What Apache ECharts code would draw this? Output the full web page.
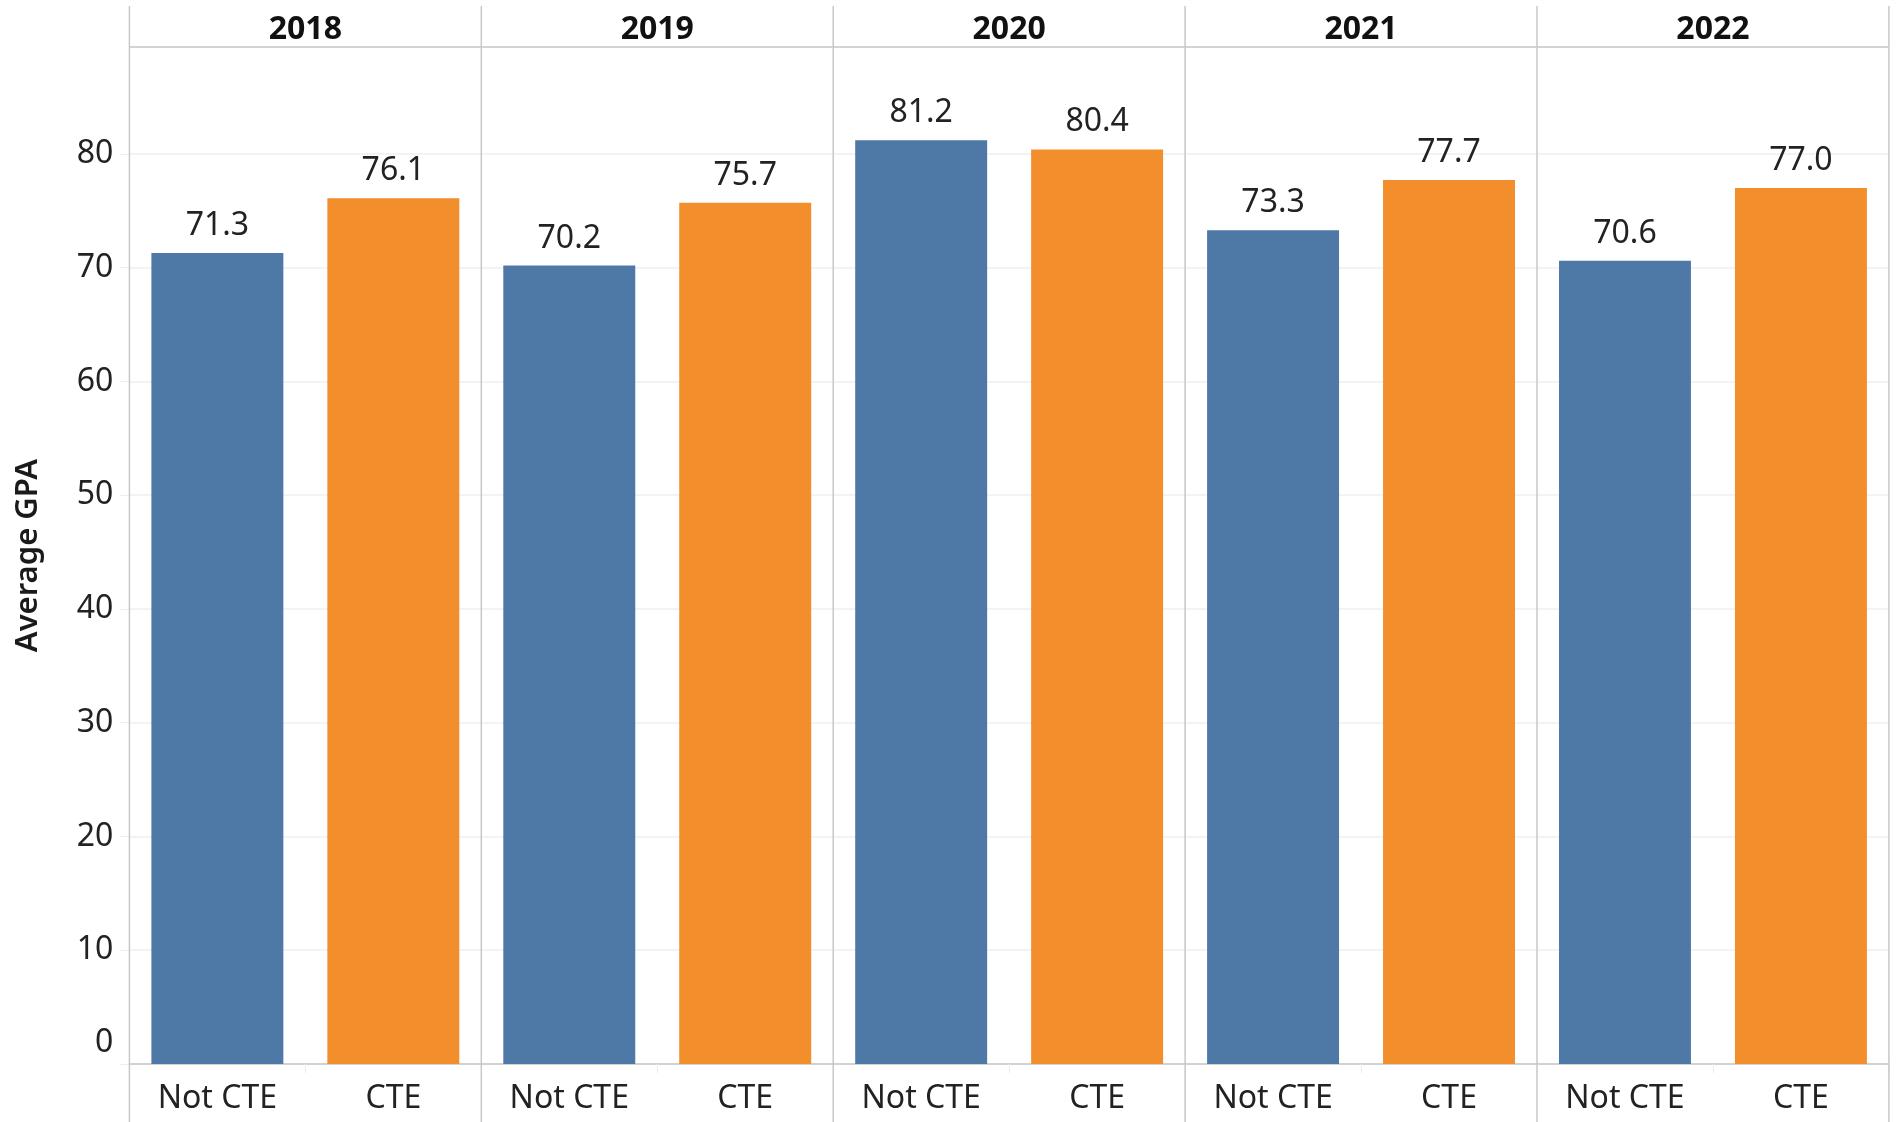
<!DOCTYPE html>
<html>
<head>
<meta charset="utf-8">
<script src="https://cdn.jsdelivr.net/npm/echarts@6/dist/echarts.min.js"></script>
<style>
  html, body { margin: 0; padding: 0; background: #fff; }
  #main { width: 1896px; height: 1122px; }
</style>
</head>
<body>
<div id="main"></div>
<script>
const years = ['2018', '2019', '2020', '2021', '2022']
const groups = ['Not CTE', 'CTE']
const notCte = [71.3, 70.2, 81.2, 73.3, 70.6]
const cte = [76.1, 75.7, 80.4, 77.7, 77.0]
const yMax = 89.4
const yStep = 10

// layout
const left0 = 129.4
const panelW = 351.9
const plotTop = 47
const base = 1064
const font = 'Noto Sans'
const border = '#c8c8c8'
const gridColor = '#efefef'

const chart = echarts.init(document.getElementById('main'))

const grids = []
const xAxes = []
const yAxes = []
const series = []
const graphics = []

years.forEach((y, i) => {
  grids.push({ left: left0 + i * panelW, top: plotTop, width: panelW, height: base - plotTop })
  xAxes.push({
    type: 'category',
    gridIndex: i,
    data: groups,
    axisLine: { lineStyle: { color: border, width: 1.5 } },
    axisTick: { show: true, length: 9, lineStyle: { color: '#ececec' } },
    axisLabel: { fontSize: 32, fontFamily: font, color: '#222', margin: 19 }
  })
  yAxes.push({
    type: 'value',
    gridIndex: i,
    min: 0,
    max: yMax,
    interval: yStep,
    name: i === 0 ? 'Average GPA' : '',
    nameLocation: 'middle',
    nameGap: 86,
    nameTextStyle: { fontSize: 31, fontWeight: 600, fontFamily: font, color: '#1a1a1a' },
    axisLine: { show: false },
    axisTick: { show: i === 0, length: 10, lineStyle: { color: gridColor } },
    axisLabel: {
      show: i === 0,
      showMaxLabel: false,
      fontSize: 32,
      fontFamily: font,
      color: '#222',
      margin: 16,
      // tableau keeps the 0 label above the baseline
      formatter: v => v === 0 ? '{z|0}' : String(v),
      rich: { z: { fontSize: 32, fontFamily: font, color: '#222', padding: [0, 0, 42, 0] } }
    },
    splitLine: { lineStyle: { color: gridColor, width: 1.5 } }
  })
  series.push({
    type: 'bar',
    xAxisIndex: i,
    yAxisIndex: i,
    barWidth: '75%',
    data: [
      { value: notCte[i], itemStyle: { color: '#4e79a7' } },
      { value: cte[i], itemStyle: { color: '#f28e2b' } }
    ],
    label: {
      show: true,
      position: 'top',
      distance: 11,
      fontSize: 32,
      fontFamily: font,
      color: '#222',
      formatter: p => p.value.toFixed(1)
    }
  })
  graphics.push({
    type: 'text',
    x: left0 + (i + 0.5) * panelW,
    y: 29.5,
    style: { text: y, textAlign: 'center', textVerticalAlign: 'middle', fontSize: 32, fontWeight: 'bold', fontFamily: font, fill: '#111' }
  })
})

// panel borders
for (let k = 0; k <= years.length; k++) {
  const x = left0 + k * panelW
  graphics.push({ type: 'line', shape: { x1: x, y1: 6, x2: x, y2: 1122 }, style: { stroke: border, lineWidth: 1.5 }, z: 10 })
}
graphics.push({ type: 'line', shape: { x1: left0, y1: plotTop, x2: left0 + years.length * panelW, y2: plotTop }, style: { stroke: border, lineWidth: 1.5 }, z: 10 })

chart.setOption({
  animation: false,
  grid: grids,
  xAxis: xAxes,
  yAxis: yAxes,
  series: series,
  graphic: graphics
})
</script>
</body>
</html>
